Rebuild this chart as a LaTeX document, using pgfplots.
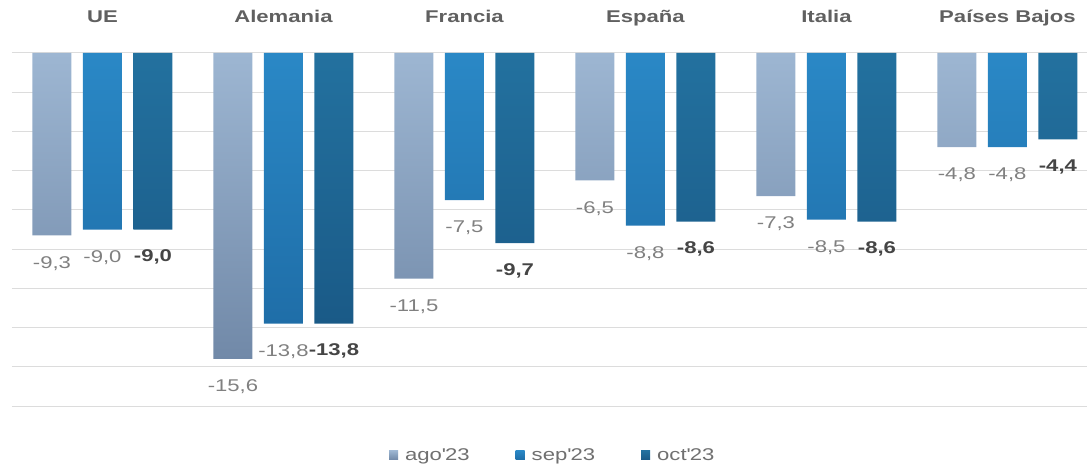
\documentclass[border=0pt]{standalone}
\usepackage{fontspec}
\setmainfont{Liberation Sans}[FakeStretch=1.3]
\usepackage{pgfplots}
\pgfplotsset{compat=1.18}

\definecolor{agoT}{HTML}{9DB6D2}
\definecolor{agoB}{HTML}{7189A8}
\definecolor{sepT}{HTML}{2A88C6}
\definecolor{sepB}{HTML}{1F6EA8}
\definecolor{octT}{HTML}{23719F}
\definecolor{octB}{HTML}{1A5A87}
\definecolor{catgray}{HTML}{606060}
\definecolor{valgray}{HTML}{808080}
\definecolor{boldgray}{HTML}{454545}
\definecolor{leggray}{HTML}{707070}
\definecolor{gridgray}{HTML}{DCDCDC}

\begin{document}
\begin{tikzpicture}
\useasboundingbox (0,0) rectangle (1087pt,472pt);
\begin{axis}[
  at={(12pt,66pt)}, anchor=south west,
  scale only axis, width=1075pt, height=353pt,
  ybar, bar width=39pt,
  xmin=-0.5, xmax=5.44, ymin=-18, ymax=0,
  enlargelimits=false,
  axis line style={draw=none},
  major tick length=0pt,
  xtick={0,...,5},
  xticklabels={UE,Alemania,Francia,España,Italia,Países Bajos},
  xticklabel pos=upper,
  xticklabel style={font=\fontsize{17}{20}\selectfont\bfseries, text=catgray, anchor=base, yshift=30pt},
  ytick={-18,-16,...,0},
  yticklabel=\mbox{},
  ymajorgrids,
  grid style={gridgray, line width=1pt},
  point meta=explicit symbolic,
  nodes near coords,
  every node near coord/.append style={font=\fontsize{17}{20}\selectfont, text=valgray, inner sep=0pt, yshift=-35pt},
  legend columns=3,
  legend style={draw=none, at={(0.503,-0.139)}, anchor=center,
    font=\fontsize{17}{20}\selectfont, text=leggray,
    /tikz/every even column/.append style={column sep=44pt}},
]
\addplot[draw=none, top color=agoT, bottom color=agoB, bar shift=-50.5pt,
  legend image code/.code={\fill[agoB!70!agoT] (0pt,-4.5pt) rectangle (9pt,4.5pt); \path (14pt,0pt);}]
  coordinates {(0,-9.3)[-9,3] (1,-15.6)[-15,6] (2,-11.5)[-11,5] (3,-6.5)[-6,5] (4,-7.3)[-7,3] (5,-4.8)[-4,8]};
\addplot[draw=none, top color=sepT, bottom color=sepB, bar shift=0pt,
  legend image code/.code={\fill[sepT!60!sepB] (0pt,-4.5pt) rectangle (9pt,4.5pt); \path (14pt,0pt);}]
  coordinates {(0,-9.0)[-9,0] (1,-13.8)[-13,8] (2,-7.5)[-7,5] (3,-8.8)[-8,8] (4,-8.5)[-8,5] (5,-4.8)[-4,8]};
\addplot[draw=none, top color=octT, bottom color=octB, bar shift=50.5pt,
  every node near coord/.append style={font=\fontsize{17}{20}\selectfont\bfseries, text=boldgray},
  legend image code/.code={\fill[octT!60!octB] (0pt,-4.5pt) rectangle (9pt,4.5pt); \path (14pt,0pt);}]
  coordinates {(0,-9.0)[-9,0] (1,-13.8)[-13,8] (2,-9.7)[-9,7] (3,-8.6)[-8,6] (4,-8.6)[-8,6] (5,-4.4)[-4,4]};
\legend{ago\textquotesingle23,sep\textquotesingle23,oct\textquotesingle23}
\end{axis}
\end{tikzpicture}
\end{document}
